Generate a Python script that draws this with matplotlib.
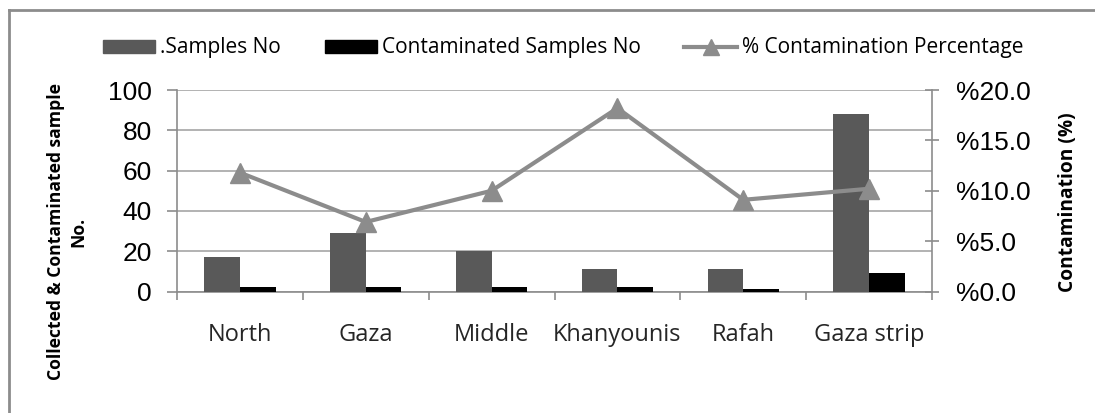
import numpy as np
import matplotlib.pyplot as plt
from matplotlib.lines import Line2D
from matplotlib.patches import Patch

OUTPUT_FILE = "out.png"

REGIONS = ["North", "Gaza", "Middle", "Khanyounis", "Rafah", "Gaza strip"]
SAMPLES = [17, 29, 20, 11, 11, 88]
CONTAMINATED = [2, 2, 2, 2, 1, 9]
PERCENT = [11.8, 6.9, 10.0, 18.2, 9.1, 10.2]

LEFT_TICKS = [0, 20, 40, 60, 80, 100]
RIGHT_TICKS = [0, 5, 10, 15, 20]
RIGHT_LABELS = ["%0.0", "%5.0", "%10.0", "%15.0", "%20.0"]

GRAY_LINE = "#8c8c8c"
BAR_GRAY = "#595959"


def plot_chart():
    fig = plt.figure(figsize=(10.95, 4.13), dpi=100)
    W, H = 1095, 413

    # outer frame (only top and left edges visible)
    fig.add_artist(Line2D([9 / W, 1], [1 - 10 / H, 1 - 10 / H], color=GRAY_LINE, lw=2))
    fig.add_artist(Line2D([9 / W, 9 / W], [0, 1 - 10 / H], color=GRAY_LINE, lw=2))

    ax = fig.add_axes([177 / W, 1 - 291.5 / H, (932 - 177) / W, (291.5 - 90) / H])
    x = np.arange(len(REGIONS))
    w = 0.284

    ax.bar(x - w / 2, SAMPLES, w, color=BAR_GRAY, zorder=3)
    ax.bar(x + w / 2, CONTAMINATED, w, color="black", zorder=3)

    ax.set_xlim(-0.5, len(REGIONS) - 0.5)
    ax.set_ylim(0, 100)
    ax.set_yticks(LEFT_TICKS)
    ax.set_yticklabels([str(t) for t in LEFT_TICKS], fontsize=19, family="Liberation Sans")
    ax.yaxis.grid(True, color="#a6a6a6", lw=1.2, zorder=0)
    ax.set_xticks(np.arange(-0.5, len(REGIONS), 1.0))
    ax.set_xticklabels([])
    ax.set_xticks(x, minor=True)
    ax.set_xticklabels(REGIONS, minor=True, fontsize=17, family="Open Sans", color="#262626")
    ax.tick_params(axis="x", which="major", length=6, color=GRAY_LINE, width=1.2)
    ax.tick_params(axis="x", which="minor", length=0, pad=23)
    ax.tick_params(axis="y", length=7, color=GRAY_LINE, width=1.2, pad=11)

    for side in ["top", "right"]:
        ax.spines[side].set_visible(False)
    for side in ["left", "bottom"]:
        ax.spines[side].set_color(GRAY_LINE)
        ax.spines[side].set_linewidth(1.2)

    ax2 = ax.twinx()
    ax2.plot(x, PERCENT, color=GRAY_LINE, lw=3, marker="^", markersize=15, zorder=4)
    ax2.set_ylim(0, 20)
    ax2.set_yticks(RIGHT_TICKS)
    ax2.set_yticklabels(RIGHT_LABELS, fontsize=19, family="Liberation Sans")
    ax2.tick_params(axis="y", direction="inout", length=10, color=GRAY_LINE, width=1.2, pad=12)
    for side in ["top", "left", "bottom"]:
        ax2.spines[side].set_visible(False)
    ax2.spines["right"].set_color(GRAY_LINE)
    ax2.spines["right"].set_linewidth(1.2)

    fig.text(67 / W, 1 - 232 / H, "Collected & Contaminated sample\nNo.", rotation=90,
             ha="center", va="center", fontsize=12.6, fontweight="bold",
             family="Open Sans", linespacing=1.3)
    fig.text(1068 / W, 1 - 202 / H, "Contamination (%)", rotation=90,
             ha="center", va="center", fontsize=13.8, fontweight="bold", family="Open Sans")

    handles = [
        Patch(color=BAR_GRAY),
        Patch(color="black"),
        Line2D([], [], color=GRAY_LINE, lw=3, marker="^", markersize=11),
    ]
    labels = [".Samples No", "Contaminated Samples No", "% Contamination Percentage"]
    fig.legend(handles, labels, loc="center", bbox_to_anchor=(563 / W, 1 - 48 / H),
               ncol=3, frameon=False,
               prop={"family": ["Liberation Sans Narrow", "Open Sans"], "size": 15},
               handlelength=2.5, handleheight=0.6, columnspacing=2.1, handletextpad=0.25)

    fig.savefig(OUTPUT_FILE, dpi=100)


def main():
    plot_chart()


if __name__ == "__main__":
    main()
